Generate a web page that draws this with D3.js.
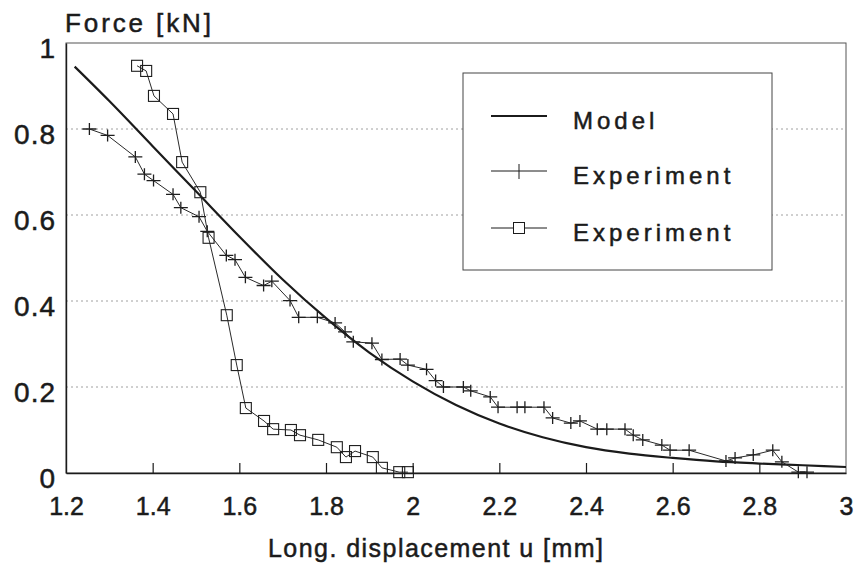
<!DOCTYPE html>
<html>
<head>
<meta charset="utf-8">
<script src="https://cdn.jsdelivr.net/npm/d3@7"></script>
<style>
  html, body { margin: 0; padding: 0; background: #ffffff; }
  svg { display: block; }
  text { font-family: Arial, "Liberation Sans", Helvetica, sans-serif; fill: #1b1b1b; stroke: #1b1b1b; stroke-width: 0.5px; }
</style>
</head>
<body>
<svg id="chart" width="867" height="565"></svg>
<script>
// ---------------- data ----------------
const xTickValues = [1.2, 1.4, 1.6, 1.8, 2.0, 2.2, 2.4, 2.6, 2.8, 3.0];
const xTickLabels = ["1.2", "1.4", "1.6", "1.8", "2", "2.2", "2.4", "2.6", "2.8", "3"];
const yTickValues = [0, 0.2, 0.4, 0.6, 0.8, 1.0];
const yTickLabels = ["0", "0.2", "0.4", "0.6", "0.8", "1"];

const modelU = [1.22, 1.3, 1.4, 1.5, 1.6, 1.7, 1.8, 1.9, 2.0, 2.1, 2.2, 2.3, 2.4, 2.5, 2.6, 2.7, 2.8, 2.9, 3.0];
const modelF = [0.945, 0.865, 0.76, 0.655, 0.55, 0.45, 0.36, 0.28, 0.213, 0.158, 0.115, 0.083, 0.060, 0.045, 0.035, 0.027, 0.022, 0.018, 0.014];

const exp1U = [1.254, 1.296, 1.36, 1.381, 1.402, 1.447, 1.465, 1.507, 1.526, 1.570, 1.590, 1.614, 1.656, 1.675,
  1.717, 1.737, 1.780, 1.821, 1.844, 1.863, 1.906, 1.929, 1.971, 1.989, 2.032, 2.053, 2.071, 2.117, 2.134,
  2.179, 2.197, 2.241, 2.259, 2.303, 2.323, 2.365, 2.386, 2.426, 2.448, 2.490, 2.509, 2.531, 2.575, 2.594,
  2.638, 2.723, 2.744, 2.786, 2.831, 2.852, 2.890, 2.910];
const exp1F = [0.80, 0.785, 0.735, 0.695, 0.68, 0.648, 0.617, 0.596, 0.562, 0.506, 0.496, 0.455, 0.436, 0.446,
  0.401, 0.362, 0.362, 0.349, 0.328, 0.305, 0.302, 0.264, 0.265, 0.251, 0.241, 0.215, 0.200, 0.200, 0.191,
  0.177, 0.153, 0.153, 0.153, 0.153, 0.128, 0.116, 0.121, 0.102, 0.102, 0.102, 0.088, 0.077, 0.065, 0.053,
  0.053, 0.028, 0.035, 0.042, 0.053, 0.026, 0.002, 0.002];

const exp2U = [1.364, 1.385, 1.403, 1.447, 1.468, 1.510, 1.529, 1.571, 1.594, 1.615, 1.657, 1.678, 1.719, 1.740,
  1.782, 1.825, 1.846, 1.867, 1.908, 1.929, 1.969, 1.989];
const exp2F = [0.947, 0.935, 0.877, 0.835, 0.723, 0.653, 0.547, 0.367, 0.251, 0.151, 0.121, 0.102, 0.100, 0.088,
  0.077, 0.060, 0.037, 0.051, 0.037, 0.012, 0.002, 0.002];

const legendLabels = ["Model", "Experiment", "Experiment"];
const yTitle = "Force [kN]";
const xTitle = "Long. displacement u [mm]";

// ---------------- chart ----------------
const svg = d3.select("#chart");
const plotL = 66, plotR = 846, plotT = 43, plotB = 473;
const x = d3.scaleLinear().domain([1.2, 3.0]).range([plotL, plotR]);
const y = d3.scaleLinear().domain([0, 1]).range([plotB, plotT]);
const ink = "#1b1b1b";

// gridlines
svg.append("g").selectAll("line")
  .data(yTickValues.filter(v => v > 0 && v < 1))
  .join("line")
  .attr("x1", plotL).attr("x2", plotR)
  .attr("y1", d => y(d)).attr("y2", d => y(d))
  .attr("stroke", "#a0a0a0").attr("stroke-width", 1)
  .attr("stroke-dasharray", "2,3");

// frame
svg.append("rect")
  .attr("x", plotL).attr("y", plotT)
  .attr("width", plotR - plotL).attr("height", plotB - plotT)
  .attr("fill", "none").attr("stroke", "#555").attr("stroke-width", 1);

// x axis
const xAxis = d3.axisBottom(x)
  .tickValues(xTickValues)
  .tickFormat((d, i) => xTickLabels[i])
  .tickSizeInner(-10).tickSizeOuter(0).tickPadding(0);
const gx = svg.append("g").attr("transform", `translate(0,${plotB})`).call(xAxis);
gx.select(".domain").attr("stroke", ink).attr("stroke-width", 1.4);
gx.selectAll(".tick line").attr("stroke", ink).attr("stroke-width", 1.2)
  .attr("display", d => (d === 1.2 || d === 3.0) ? "none" : null);
gx.selectAll(".tick text")
  .attr("y", 42).attr("dy", 0)
  .attr("font-size", 25).attr("fill", ink);

// y axis
const yAxis = d3.axisLeft(y)
  .tickValues(yTickValues)
  .tickFormat((d, i) => yTickLabels[i])
  .tickSize(0).tickPadding(0);
const gy = svg.append("g").attr("transform", `translate(${plotL},0)`).call(yAxis);
gy.select(".domain").attr("stroke", ink).attr("stroke-width", 1.4);
gy.selectAll(".tick text")
  .attr("x", -10).attr("dy", 14)
  .attr("font-size", 28).attr("letter-spacing", 1).attr("fill", ink);

// titles
svg.append("text").attr("x", 65).attr("y", 32)
  .attr("font-size", 26).attr("textLength", 146).attr("lengthAdjust", "spacing")
  .text(yTitle);
svg.append("text").attr("x", 268).attr("y", 557)
  .attr("font-size", 25).attr("textLength", 335).attr("lengthAdjust", "spacing")
  .text(xTitle);

// model line
const modelData = modelU.map((u, i) => [u, modelF[i]]);
svg.append("path").datum(modelData)
  .attr("d", d3.line().x(d => x(d[0])).y(d => y(d[1])).curve(d3.curveMonotoneX))
  .attr("fill", "none").attr("stroke", ink).attr("stroke-width", 2.2);

// experiment 1 (plus)
const e1 = exp1U.map((u, i) => [u, exp1F[i]]);
svg.append("path").datum(e1)
  .attr("d", d3.line().x(d => x(d[0])).y(d => y(d[1])))
  .attr("fill", "none").attr("stroke", "#2a2a2a").attr("stroke-width", 1);
const plusPath = "M-7,0H7M0,-6V6";
svg.append("g").selectAll("path").data(e1).join("path")
  .attr("transform", d => `translate(${x(d[0])},${y(d[1])})`)
  .attr("d", plusPath)
  .attr("fill", "none").attr("stroke", "#1e1e1e").attr("stroke-width", 1.3);

// experiment 2 (square)
const e2 = exp2U.map((u, i) => [u, exp2F[i]]);
svg.append("path").datum(e2)
  .attr("d", d3.line().x(d => x(d[0])).y(d => y(d[1])))
  .attr("fill", "none").attr("stroke", "#2a2a2a").attr("stroke-width", 1);
svg.append("g").selectAll("rect").data(e2).join("rect")
  .attr("x", d => x(d[0]) - 5.5).attr("y", d => y(d[1]) - 5.5)
  .attr("width", 11).attr("height", 11)
  .attr("fill", "none").attr("stroke", "#1e1e1e").attr("stroke-width", 1.1);

// legend
const lg = svg.append("g");
lg.append("rect").attr("x", 463).attr("y", 73).attr("width", 309).attr("height", 197)
  .attr("fill", "#fff").attr("stroke", "#444").attr("stroke-width", 1);
const rowY = [116, 171, 228];
legendLabels.forEach((lab, i) => {
  const ry = rowY[i];
  lg.append("line").attr("x1", 491).attr("x2", 547).attr("y1", ry).attr("y2", ry)
    .attr("stroke", ink).attr("stroke-width", i === 0 ? 2.2 : 1);
  if (i === 1) {
    lg.append("line").attr("x1", 519).attr("x2", 519).attr("y1", ry - 7).attr("y2", ry + 8)
      .attr("stroke", ink).attr("stroke-width", 1);
  }
  if (i === 2) {
    lg.append("rect").attr("x", 513.5).attr("y", ry - 5.5).attr("width", 11).attr("height", 11)
      .attr("fill", "#fff").attr("stroke", ink).attr("stroke-width", 1);
  }
  lg.append("text").attr("x", 573).attr("y", ry + 13)
    .attr("font-size", 24).attr("letter-spacing", 4)
    .text(lab);
});
</script>
</body>
</html>
